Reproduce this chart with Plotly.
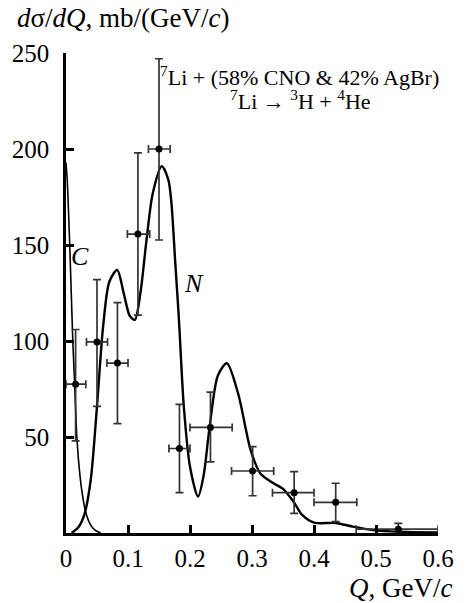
import plotly.graph_objects as go

# Experimental points
q = [0.0155, 0.050, 0.083, 0.116, 0.150, 0.183, 0.233, 0.301, 0.368, 0.435, 0.536]
q_lo = [0.000, 0.033, 0.066, 0.099, 0.133, 0.166, 0.200, 0.267, 0.333, 0.400, 0.468]
q_hi = [0.032, 0.067, 0.100, 0.135, 0.168, 0.200, 0.268, 0.335, 0.400, 0.469, 0.600]
val = [77.5, 99.5, 88.5, 155.7, 200.0, 44.0, 55.0, 32.3, 21.0, 16.0, 2.0]
val_hi = [106.0, 132.0, 120.0, 198.0, 247.0, 67.0, 73.4, 45.0, 32.0, 25.9, 5.0]
val_lo = [48.0, 66.0, 57.0, 113.5, 152.6, 21.0, 37.0, 19.4, 10.2, 5.9, 0.0]

# Curve "C"
c_q = [0.0, 0.002, 0.004, 0.006, 0.0085, 0.011, 0.014, 0.017, 0.021, 0.026, 0.032, 0.040, 0.048, 0.056]
c_v = [193, 184, 168, 150, 125, 100, 77, 53, 35, 21, 10.5, 4, 1.2, 0]

# Curve "N"
n_q = [0.009, 0.020, 0.030, 0.040, 0.050, 0.060, 0.070, 0.0826, 0.093, 0.103, 0.111,
       0.120, 0.130, 0.140, 0.1545, 0.165, 0.170, 0.176, 0.182, 0.190, 0.200, 0.213, 0.222,
       0.231, 0.245, 0.2594, 0.2775, 0.298, 0.3136, 0.334, 0.350, 0.367, 0.381, 0.400, 0.435,
       0.463, 0.495, 0.550, 0.600]
n_v = [0, 3, 10, 28, 66, 108, 131, 137, 125, 113, 111,
       125, 153, 177, 191, 184, 172, 142, 112, 66, 34.5, 19, 30,
       53.6, 82, 88.4, 72.8, 43, 31, 26, 23, 16.3, 9.4, 5.4, 5.2,
       3.3, 1.5, 0.5, 0.3]

x_ticks = [0, 0.1, 0.2, 0.3, 0.4, 0.5, 0.6]
x_tick_text = ["0", "0.1", "0.2", "0.3", "0.4", "0.5", "0.6"]
y_ticks = [50, 100, 150, 200, 250]

FONT = "Liberation Serif"

fig = go.Figure()

fig.add_trace(go.Scatter(x=c_q, y=c_v, mode="lines",
                         line=dict(color="black", width=1.6, shape="spline", smoothing=0.6),
                         showlegend=False, hoverinfo="skip"))
fig.add_trace(go.Scatter(x=n_q, y=n_v, mode="lines",
                         line=dict(color="black", width=2.4, shape="spline", smoothing=0.8),
                         showlegend=False, hoverinfo="skip"))

fig.add_trace(go.Scatter(
    x=q, y=val, mode="markers",
    marker=dict(color="black", size=7),
    error_x=dict(type="data", symmetric=False,
                 array=[h - c for h, c in zip(q_hi, q)],
                 arrayminus=[c - l for c, l in zip(q, q_lo)],
                 color="#333333", thickness=1.7, width=4),
    error_y=dict(type="data", symmetric=False,
                 array=[h - v for h, v in zip(val_hi, val)],
                 arrayminus=[v - l for v, l in zip(val, val_lo)],
                 color="#333333", thickness=1.7, width=4),
    showlegend=False))

fig.update_layout(
    width=466, height=603,
    margin=dict(l=61, r=18, t=53, b=70),
    plot_bgcolor="white", paper_bgcolor="white",
    font=dict(family=FONT, size=24, color="black"),
    xaxis=dict(range=[0, 0.6], showline=True, linecolor="black", linewidth=2.5,
               ticks="inside", ticklen=8, tickwidth=2.5, tickcolor="black",
               tickvals=x_ticks, ticktext=x_tick_text, showgrid=False, zeroline=False,
               tickfont=dict(family=FONT, size=25), ticklabelstandoff=1),
    yaxis=dict(range=[0, 250], showline=True, linecolor="black", linewidth=2.5,
               ticks="inside", ticklen=8, tickwidth=2.5, tickcolor="black",
               tickvals=y_ticks, showgrid=False, zeroline=False,
               tickfont=dict(family=FONT, size=25), ticklabelstandoff=9),
    annotations=[
        dict(text="<i>d</i>σ/<i>dQ</i>, mb/(GeV/<i>c</i>)", xref="paper", yref="paper",
             x=-53/387, y=1 + 35/480, xanchor="left", yanchor="middle", showarrow=False,
             font=dict(family=FONT, size=27)),
        dict(text="<i>Q</i>, GeV/<i>c</i>", xref="paper", yref="paper",
             x=1 + 17/387, y=-55/480, xanchor="right", yanchor="middle", showarrow=False,
             font=dict(family=FONT, size=27)),
        dict(text="<sup>7</sup>Li + (58% CNO &amp; 42% AgBr)", x=0.377, y=238,
             xanchor="center", yanchor="middle", showarrow=False,
             font=dict(family=FONT, size=22)),
        dict(text="<sup>7</sup>Li → <sup>3</sup>H + <sup>4</sup>He",
             x=0.379, y=225.5,
             xanchor="center", yanchor="middle", showarrow=False,
             font=dict(family=FONT, size=22)),
        dict(text="<i>C</i>", x=0.022, y=144, xanchor="center", yanchor="middle",
             showarrow=False, font=dict(family=FONT, size=26)),
        dict(text="<i>N</i>", x=0.206, y=130, xanchor="center", yanchor="middle",
             showarrow=False, font=dict(family=FONT, size=26)),
    ],
)

fig.write_html("out.html", config={"displayModeBar": False},
               post_script="document.body.style.margin='0';")
